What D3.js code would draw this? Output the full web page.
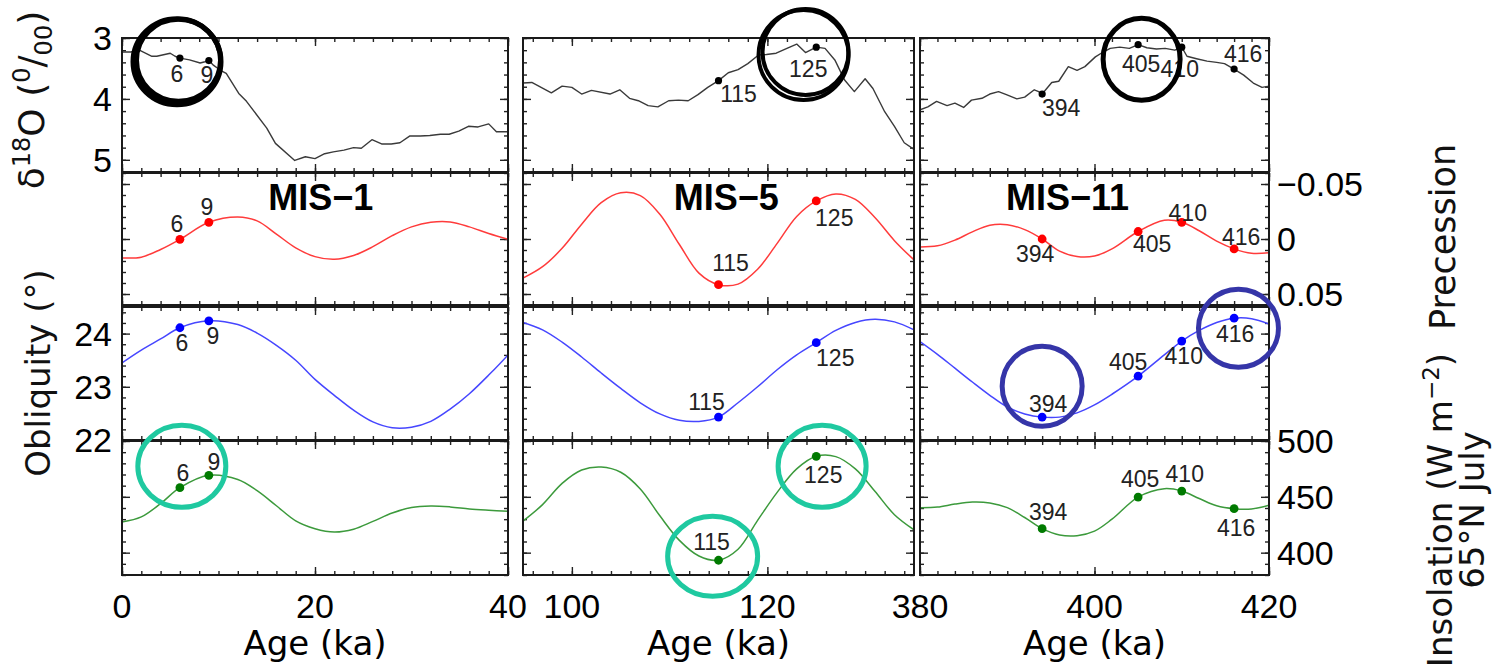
<!DOCTYPE html>
<html>
<head>
<meta charset="utf-8">
<script src="https://cdn.jsdelivr.net/npm/d3@7"></script>
<style>
  html, body { margin: 0; padding: 0; background: #fff; }
  svg { display: block; }
</style>
</head>
<body>
<script>
// ---------------------------------------------------------------
// Data: benthic d18O stack and orbital parameters for three interglacials
// ---------------------------------------------------------------
const stages = ["MIS\u22121", "MIS\u22125", "MIS\u221211"];
const ageDomains = [[0, 40], [95, 135], [380, 420]];
const ageTickLabels = [[0, 20, 40], [100, 120], [380, 400, 420]];

// marked ages in each stage
const markAges = [[6, 9], [115, 125], [394, 405, 410, 416]];

// d18O (per mil)
const d18oAge1 = [0, 0.9, 1.8, 3.1, 3.6, 5.0, 5.5, 6, 7, 8.1, 8.6, 9, 9.5, 10.2, 10.8, 12.1, 12.9, 15.0, 15.9, 17.9, 19.0, 20.0, 21.0, 21.9, 23.0, 24.0, 24.8, 25.9, 26.9, 27.9, 28.8, 29.8, 30.9, 31.9, 33.0, 33.9, 34.9, 35.9, 36.9, 38.0, 38.8, 40.0];
const d18oVal1 = [3.23, 3.23, 3.20, 3.30, 3.30, 3.25, 3.30, 3.33, 3.36, 3.41, 3.39, 3.37, 3.45, 3.53, 3.58, 3.91, 4.04, 4.48, 4.73, 5.01, 4.95, 4.98, 4.90, 4.87, 4.84, 4.80, 4.81, 4.67, 4.74, 4.74, 4.72, 4.61, 4.61, 4.60, 4.58, 4.58, 4.53, 4.45, 4.46, 4.41, 4.54, 4.54];
const d18oAge5 = [95, 95.9, 97.9, 99, 100, 101, 102, 103.9, 104.9, 105.9, 106.8, 107.8, 108.8, 109.9, 110.9, 111.9, 112.9, 113.9, 115, 116, 117, 118, 119.1, 119.9, 120.9, 122, 123, 123.9, 125, 125.9, 126.9, 127.9, 128.9, 130, 130.8, 132, 133, 134, 135];
const d18oVal5 = [3.74, 3.73, 3.90, 3.79, 3.81, 3.92, 3.86, 3.92, 3.85, 3.99, 4.03, 4.11, 4.13, 4.03, 4.02, 4.03, 3.93, 3.81, 3.70, 3.57, 3.52, 3.42, 3.28, 3.27, 3.25, 3.17, 3.10, 3.24, 3.15, 3.17, 3.36, 3.69, 3.88, 3.67, 3.83, 4.21, 4.45, 4.72, 4.83];
const d18oAge11 = [380, 380.9, 381.9, 383.1, 384, 385, 385.9, 387.1, 388, 389, 389.9, 391.1, 392, 393.1, 393.6, 394, 395.1, 395.9, 397, 398, 398.9, 400.1, 401, 401.8, 402.9, 404, 405, 406, 407.1, 408.1, 409.2, 410, 410.6, 411.7, 412.9, 414, 414.9, 416, 417.1, 418.2, 419.2, 420];
const d18oVal11 = [4.18, 4.13, 4.04, 4.11, 4.07, 4.14, 4.02, 3.99, 3.92, 3.88, 3.93, 4.00, 3.97, 3.85, 3.88, 3.92, 3.73, 3.71, 3.47, 3.53, 3.47, 3.31, 3.23, 3.17, 3.15, 3.17, 3.11, 3.16, 3.18, 3.17, 3.20, 3.15, 3.30, 3.34, 3.38, 3.40, 3.42, 3.51, 3.61, 3.74, 3.81, 3.79];

// orbital series share one age grid per stage
const orbAge1 = [0, 2, 4, 6, 9, 12, 14, 16, 18, 20, 22, 24, 26, 28, 30, 32, 34, 36, 38, 40];
const precession1 = [0.0172, 0.0165, 0.0095, 0.0003, -0.0152, -0.0200, -0.0165, -0.0045, 0.0080, 0.0160, 0.0185, 0.0150, 0.0070, -0.0030, -0.0110, -0.0152, -0.0155, -0.0110, -0.0050, 0.0002];
const obliquity1 = [23.45, 23.69, 23.90, 24.11, 24.24, 24.17, 24.01, 23.78, 23.50, 23.14, 22.84, 22.56, 22.34, 22.23, 22.24, 22.35, 22.58, 22.87, 23.22, 23.60];
const insolation1 = [427.5, 432, 444, 458.2, 469.3, 465.5, 455.5, 442, 428.5, 421.5, 418.5, 421, 428, 435.5, 440.5, 441.8, 441, 439.2, 438, 437];

const orbAge5 = [95, 97, 99, 101, 103, 105, 107, 109, 111, 113, 115, 117, 119, 121, 123, 125, 127, 129, 131, 133, 135];
const precession5 = [0.0356, 0.0252, 0.0085, -0.0135, -0.0330, -0.0420, -0.0395, -0.0225, 0.0050, 0.0310, 0.0415, 0.0410, 0.0275, 0.0040, -0.0205, -0.0346, -0.0410, -0.0360, -0.0195, 0.0015, 0.0190];
const obliquity5 = [24.21, 24.07, 23.84, 23.56, 23.26, 22.97, 22.70, 22.49, 22.37, 22.35, 22.43, 22.70, 23.00, 23.32, 23.60, 23.83, 24.06, 24.21, 24.27, 24.22, 24.07];
const insolation5 = [428.3, 443, 462, 474, 476.7, 472, 457, 433, 411, 397, 393.2, 403, 428.9, 454, 475, 486.3, 486, 475, 455, 434, 420.5];

const orbAge11 = [380, 382, 384, 386, 388, 390, 392, 394, 396, 398, 400, 402, 405, 408, 410, 412, 414, 416, 418, 420];
const precession11 = [0.0072, 0.0062, 0.0010, -0.0065, -0.0125, -0.0130, -0.0085, 0.0000, 0.0110, 0.0160, 0.0155, 0.0090, -0.0068, -0.0170, -0.0152, -0.0075, 0.0020, 0.0090, 0.0130, 0.0125];
const obliquity11 = [23.85, 23.61, 23.35, 23.09, 22.84, 22.62, 22.49, 22.43, 22.43, 22.51, 22.66, 22.86, 23.20, 23.60, 23.86, 24.06, 24.21, 24.29, 24.28, 24.18];
const insolation11 = [440.3, 440.8, 443.5, 445.3, 444.5, 440.3, 431.5, 421.5, 415.8, 415.2, 419.3, 430, 449.8, 457.3, 455.2, 448.5, 442, 439.4, 439.2, 442.5];

// value axes (top row to bottom row)
const valueDomains = [[5.2, 3], [0.06, -0.06], [22, 24.5], [380, 500]];
const valueTicks = [[3, 4, 5], [-0.05, 0, 0.05], [22, 23, 24], [400, 450, 500]];
const valueMinorStep = [0.2, 0.01, 0.2, 10];

// ---------------------------------------------------------------
// Layout
// ---------------------------------------------------------------
const W = 1496, H = 670;
const colBox = [{ x0: 122, x1: 508 }, { x0: 523, x1: 914 }, { x0: 920, x1: 1269 }];
const rowBox = [{ y0: 38, y1: 172 }, { y0: 173, y1: 305 }, { y0: 307, y1: 440 }, { y0: 441, y1: 575 }];

const rowStyle = [
  { line: "#3a3a3a", width: 1.4, dot: "#000000", r: 3.6, curve: d3.curveLinear },
  { line: "#ff3b3b", width: 1.5, dot: "#ff0000", r: 4.4, curve: d3.curveCatmullRom.alpha(0.5) },
  { line: "#4646ff", width: 1.5, dot: "#0000ff", r: 4.4, curve: d3.curveCatmullRom.alpha(0.5) },
  { line: "#3c9a3c", width: 1.5, dot: "#007a00", r: 4.4, curve: d3.curveCatmullRom.alpha(0.5) }
];

// label offsets from each marked point [row][col][k] = [dx, dy(center)]
const labelOffsets = [
  [[[-3, 16], [-2, 14]], [[20, 13], [-8, 22]], [[19, 14], [3, 19], [-2, 22], [9, -15]]],
  [[[-3, -16], [-2, -16]], [[12, -22], [18, 17]], [[-7, 15], [14, 12], [6, -10], [7, -12]]],
  [[[2, 15], [4, 15]], [[-12, -15], [19, 15]], [[6, -13], [-10, -14], [2, 15], [1, 16]]],
  [[[3, -15], [5, -14]], [[-7, -19], [7, 18]], [[6, -17], [2, -18], [3, -17], [2, 19]]]
];

// highlight rings, positioned in data coordinates of their panel
const rings = [
  { row: 0, col: 0, age: 5.7, val: 3.39, rx: 44, ry: 43, color: "#000", w: 5, dx: 1.5, dy: -1.5 },
  { row: 0, col: 1, age: 123.7, val: 3.28, rx: 45, ry: 45, color: "#000", w: 4, dx: 2, dy: -3 },
  { row: 0, col: 2, age: 405.4, val: 3.35, rx: 38.5, ry: 41, color: "#000", w: 5 },
  { row: 2, col: 2, age: 394.0, val: 23.01, rx: 40, ry: 40, color: "#3535a8", w: 5 },
  { row: 2, col: 2, age: 416.5, val: 24.10, rx: 40, ry: 39, color: "#3535a8", w: 5 },
  { row: 3, col: 0, age: 6.2, val: 477.3, rx: 44, ry: 41, color: "#1fc9a0", w: 5 },
  { row: 3, col: 1, age: 114.4, val: 396.7, rx: 45, ry: 40, color: "#1fc9a0", w: 5 },
  { row: 3, col: 1, age: 125.6, val: 477.3, rx: 44, ry: 41, color: "#1fc9a0", w: 5 }
];

const stageLabelAges = [20.6, 115.8, 396.9];

// ---------------------------------------------------------------
const svg = d3.select("body").append("svg").attr("width", W).attr("height", H);

const series = [
  [[d18oAge1, d18oVal1], [d18oAge5, d18oVal5], [d18oAge11, d18oVal11]],
  [[orbAge1, precession1], [orbAge5, precession5], [orbAge11, precession11]],
  [[orbAge1, obliquity1], [orbAge5, obliquity5], [orbAge11, obliquity11]],
  [[orbAge1, insolation1], [orbAge5, insolation5], [orbAge11, insolation11]]
];

const xScales = colBox.map((c, i) => d3.scaleLinear().domain(ageDomains[i]).range([c.x0, c.x1]));
const yScales = rowBox.map((r, j) => d3.scaleLinear().domain(valueDomains[j]).range([r.y1, r.y0]));

function valueAt(ages, vals, a) {
  const i = ages.indexOf(a);
  if (i >= 0) return vals[i];
  const k = d3.bisectLeft(ages, a);
  const t = (a - ages[k - 1]) / (ages[k] - ages[k - 1]);
  return vals[k - 1] + t * (vals[k] - vals[k - 1]);
}

function stepRange(d0, d1, step) {
  const lo = Math.min(d0, d1), hi = Math.max(d0, d1);
  const out = [];
  for (let v = Math.ceil(lo / step - 1e-9) * step; v <= hi + 1e-9; v += step) out.push(+v.toFixed(6));
  return out;
}

const tickFont = "'Liberation Sans', Arial, sans-serif";
const titleFont = "'DejaVu Sans', Verdana, sans-serif";

for (let j = 0; j < 4; j++) {
  for (let i = 0; i < 3; i++) {
    const x = xScales[i], y = yScales[j];
    const g = svg.append("g");
    const cb = colBox[i], rb = rowBox[j];

    // clip for the curve
    const clipId = `clip-${j}-${i}`;
    svg.append("clipPath").attr("id", clipId)
      .append("rect").attr("x", cb.x0).attr("y", rb.y0).attr("width", cb.x1 - cb.x0).attr("height", rb.y1 - rb.y0);

    // ticks on all four sides, pointing inward
    const xMajor = stepRange(ageDomains[i][0], ageDomains[i][1], 20);
    const xMinor = stepRange(ageDomains[i][0], ageDomains[i][1], 2);
    const yMajor = valueTicks[j];
    const yMinor = stepRange(valueDomains[j][0], valueDomains[j][1], valueMinorStep[j]);

    const axes = [
      [d3.axisBottom(x), rb.y1, 0, xMajor, xMinor],
      [d3.axisTop(x), rb.y0, 0, xMajor, xMinor],
      [d3.axisLeft(y), cb.x0, 1, yMajor, yMinor],
      [d3.axisRight(y), cb.x1, 1, yMajor, yMinor]
    ];
    axes.forEach(([ax, pos, vert, major, minor]) => {
      [[minor, 4], [major, 8]].forEach(([vals, len]) => {
        const a = ax.tickValues(vals).tickSize(-len).tickSizeOuter(0).tickFormat("");
        const ga = g.append("g")
          .attr("transform", vert ? `translate(${pos},0)` : `translate(0,${pos})`)
          .call(a);
        ga.select(".domain").remove();
        ga.selectAll("line").attr("stroke", "#222").attr("stroke-width", 1.4);
      });
    });

    // series line
    const [ages, vals] = series[j][i];
    const line = d3.line().x((d, k) => x(ages[k])).y(d => y(d)).curve(rowStyle[j].curve);
    g.append("path")
      .attr("d", line(vals))
      .attr("fill", "none")
      .attr("stroke", rowStyle[j].line)
      .attr("stroke-width", rowStyle[j].width)
      .attr("stroke-linejoin", "round")
      .attr("clip-path", `url(#${clipId})`);

    // frame
    g.append("rect")
      .attr("x", cb.x0).attr("y", rb.y0)
      .attr("width", cb.x1 - cb.x0).attr("height", rb.y1 - rb.y0)
      .attr("fill", "none").attr("stroke", "#1a1a1a").attr("stroke-width", 2);

    // marked points and their age labels
    markAges[i].forEach((a, k) => {
      const px = x(a), py = y(valueAt(ages, vals, a));
      g.append("circle").attr("cx", px).attr("cy", py).attr("r", rowStyle[j].r).attr("fill", rowStyle[j].dot);
      const [dx, dy] = labelOffsets[j][i][k];
      g.append("text")
        .attr("x", px + dx).attr("y", py + dy + 8.3)
        .attr("text-anchor", "middle")
        .attr("font-family", tickFont).attr("font-size", 23)
        .attr("fill", "#222")
        .text(a);
    });
  }
}

// stage names in the precession row
stages.forEach((s, i) => {
  svg.append("text")
    .attr("x", xScales[i](stageLabelAges[i])).attr("y", 210)
    .attr("text-anchor", "middle")
    .attr("font-family", tickFont).attr("font-weight", "bold").attr("font-size", 36)
    .text(s);
});

// age tick labels under the bottom row
xScales.forEach((x, i) => {
  ageTickLabels[i].forEach(t => {
    svg.append("text")
      .attr("x", x(t)).attr("y", 618)
      .attr("text-anchor", "middle")
      .attr("font-family", tickFont).attr("font-size", 34)
      .text(t);
  });
  svg.append("text")
    .attr("x", (colBox[i].x0 + colBox[i].x1) / 2).attr("y", 655)
    .attr("text-anchor", "middle")
    .attr("font-family", titleFont).attr("font-size", 34)
    .text("Age (ka)");
});

// left value labels (d18O, obliquity)
[0, 2].forEach(j => {
  valueTicks[j].forEach(t => {
    svg.append("text")
      .attr("x", colBox[0].x0 - 10).attr("y", yScales[j](t) + 12)
      .attr("text-anchor", "end")
      .attr("font-family", tickFont).attr("font-size", 34)
      .text(t);
  });
});

// right value labels (precession, insolation)
const fmtPrec = d => d === 0 ? "0" : d3.format(".2f")(d);
[1, 3].forEach(j => {
  valueTicks[j].forEach(t => {
    svg.append("text")
      .attr("x", colBox[2].x1 + 8).attr("y", yScales[j](t) + 12)
      .attr("text-anchor", "start")
      .attr("font-family", tickFont).attr("font-size", 34)
      .text(j === 1 ? fmtPrec(t) : t);
  });
});

// axis titles
function vTitle(cx, cy, size) {
  return svg.append("text")
    .attr("transform", `translate(${cx},${cy}) rotate(-90)`)
    .attr("text-anchor", "middle")
    .attr("font-family", titleFont).attr("font-size", size)
    .attr("fill", "#111");
}

const t1 = vTitle(44, 100, 36);
t1.append("tspan").text("\u03B4");
t1.append("tspan").attr("font-size", 24).attr("dy", -14).text("18");
t1.append("tspan").attr("dy", 14).text("O (");
t1.append("tspan").attr("font-size", 24).attr("dy", -14).text("0");
t1.append("tspan").attr("dy", 14).text("/");
t1.append("tspan").attr("font-size", 24).attr("dy", 8).text("00");
t1.append("tspan").attr("dy", -8).text(")");

vTitle(50, 373, 34).text("Obliquity (\u00B0)");
vTitle(1455, 237, 35).text("Precession");

const t4 = vTitle(1452, 510, 34);
t4.append("tspan").text("Insolation (W m");
t4.append("tspan").attr("font-size", 23).attr("dy", -13).text("\u22122");
t4.append("tspan").attr("dy", 13).text(")");
vTitle(1484, 510, 34).text("65\u00B0N July");

// highlight rings
rings.forEach(r => {
  const cx = xScales[r.col](r.age), cy = yScales[r.row](r.val);
  svg.append("ellipse")
    .attr("cx", cx).attr("cy", cy).attr("rx", r.rx).attr("ry", r.ry)
    .attr("fill", "none").attr("stroke", r.color).attr("stroke-width", r.w);
  if (r.dx !== undefined) {
    svg.append("ellipse")
      .attr("cx", cx + r.dx).attr("cy", cy + r.dy).attr("rx", r.rx - 2).attr("ry", r.ry - 2)
      .attr("fill", "none").attr("stroke", r.color).attr("stroke-width", r.w);
  }
});
</script>
</body>
</html>
